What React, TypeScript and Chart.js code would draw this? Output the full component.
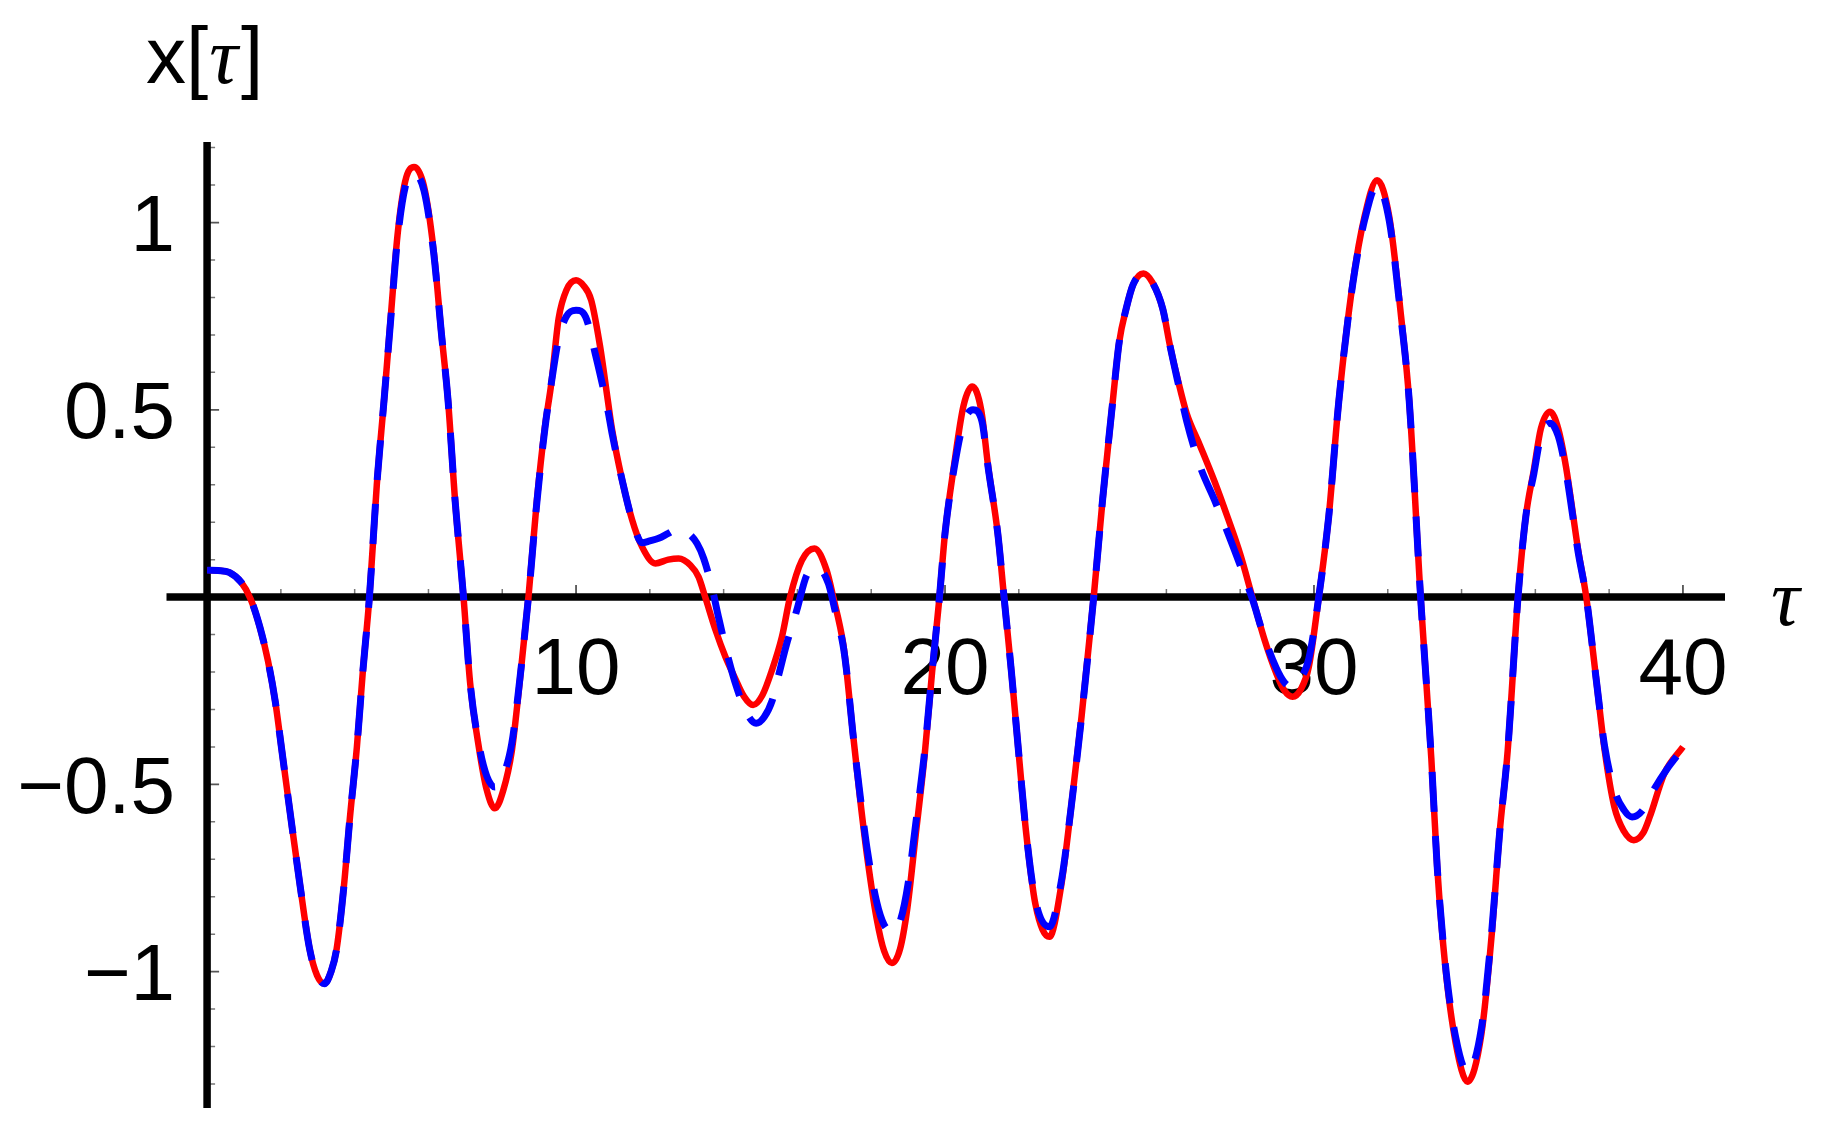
import React, { useEffect, useRef } from "react";
import { Chart, registerables } from "chart.js";

Chart.register(...registerables);

// ---- data ----
const tauRed = [
  0.0, 0.3, 0.6, 0.92, 1.18, 1.43, 1.65, 1.85, 2.02, 2.27, 2.52, 2.78, 2.98, 3.18, 3.36, 3.51, 3.71, 3.87, 4.06, 4.22,
  4.4, 4.6, 4.8, 4.98, 5.16, 5.37, 5.61, 5.88, 6.14, 6.35, 6.53, 6.72, 6.95, 7.13, 7.38, 7.58, 7.8, 8.03, 8.26, 8.47,
  8.71, 8.94, 9.15, 9.33, 9.53, 9.74, 10.0, 10.2, 10.41, 10.65, 10.86, 10.98, 11.25, 11.52, 11.79, 12.15, 12.5, 12.78, 13.1, 13.32,
  13.5, 13.78, 14.05, 14.28, 14.55, 14.8, 15.05, 15.31, 15.58, 15.8, 16.12, 16.46, 16.79, 16.97, 17.24, 17.33, 17.5, 17.7, 17.9, 18.15,
  18.35, 18.56, 18.78, 18.98, 19.2, 19.45, 19.65, 19.85, 20.0, 20.24, 20.5, 20.74, 20.98, 21.17, 21.43, 21.6, 21.8, 22.0, 22.2, 22.45,
  22.83, 23.15, 23.42, 23.7, 24.03, 24.27, 24.55, 24.72, 24.91, 25.1, 25.38, 25.62, 25.9, 26.1, 26.31, 26.55, 26.91, 27.3, 27.67, 28.0,
  28.33, 28.66, 28.98, 29.2, 29.42, 29.65, 29.86, 30.13, 30.4, 30.67, 31.05, 31.38, 31.71, 32.04, 32.36, 32.58, 32.89, 33.18, 33.34, 33.56,
  33.84, 34.16, 34.54, 34.82, 35.03, 35.25, 35.53, 35.74, 35.96, 36.15, 36.4, 36.62, 36.83, 37.16, 37.38, 37.65, 37.88, 38.14, 38.4, 38.67,
  38.92, 39.1, 39.5, 40.0,
];
const xRed = [
  0.072, 0.071, 0.066, 0.04, -0.005, -0.08, -0.17, -0.28, -0.405, -0.59, -0.77, -0.94, -1.01, -1.032, -1.0, -0.94, -0.77, -0.59, -0.4, -0.2,
  0.0, 0.3, 0.53, 0.75, 0.965, 1.11, 1.148, 1.096, 0.926, 0.705, 0.526, 0.26, 0.0, -0.23, -0.41, -0.515, -0.564, -0.515, -0.41, -0.23,
  0.0, 0.26, 0.45, 0.571, 0.745, 0.82, 0.846, 0.832, 0.793, 0.67, 0.526, 0.445, 0.312, 0.206, 0.134, 0.09, 0.1, 0.103, 0.085, 0.054,
  0.0, -0.088, -0.16, -0.21, -0.265, -0.288, -0.262, -0.195, -0.106, 0.0, 0.098, 0.13, 0.072, 0.0, -0.124, -0.195, -0.36, -0.54, -0.7, -0.86,
  -0.945, -0.977, -0.94, -0.83, -0.64, -0.42, -0.2, 0.0, 0.17, 0.348, 0.51, 0.562, 0.5, 0.348, 0.17, 0.0, -0.2, -0.42, -0.63, -0.82,
  -0.907, -0.77, -0.56, -0.32, 0.0, 0.259, 0.526, 0.68, 0.77, 0.835, 0.864, 0.84, 0.77, 0.67, 0.58, 0.49, 0.405, 0.31, 0.21, 0.115,
  0.0, -0.114, -0.204, -0.25, -0.266, -0.245, -0.186, 0.0, 0.215, 0.52, 0.838, 1.02, 1.113, 1.016, 0.75, 0.526, 0.0, -0.43, -0.72, -0.987,
  -1.19, -1.294, -1.165, -0.898, -0.631, -0.41, 0.0, 0.214, 0.34, 0.45, 0.495, 0.45, 0.348, 0.126, 0.0, -0.22, -0.41, -0.56, -0.625, -0.649,
  -0.63, -0.587, -0.47, -0.4,
];

const tauBlue = [
  0.0, 0.3, 0.6, 0.92, 1.18, 1.43, 1.65, 1.85, 2.02, 2.27, 2.52, 2.78, 2.98, 3.18, 3.36, 3.51, 3.71, 3.87, 4.06, 4.22,
  4.4, 4.6, 4.8, 4.98, 5.16, 5.37, 5.61, 5.88, 6.14, 6.35, 6.53, 6.72, 6.95, 7.13, 7.38, 7.58, 7.8, 8.03, 8.26, 8.47,
  8.71, 8.94, 9.15, 9.33, 9.53, 9.74, 10.0, 10.26, 10.52, 10.86, 10.98, 11.25, 11.52, 11.79, 12.0, 12.24, 12.5, 12.78, 13.0, 13.28,
  13.46, 13.68, 13.86, 14.14, 14.35, 14.6, 14.88, 15.1, 15.32, 15.5, 15.7, 15.98, 16.25, 16.52, 16.84, 17.02, 17.24, 17.33, 17.5, 17.7,
  17.9, 18.15, 18.35, 18.58, 18.8, 19.0, 19.2, 19.45, 19.65, 19.85, 20.0, 20.24, 20.5, 20.76, 21.0, 21.17, 21.43, 21.6, 21.8, 22.0,
  22.2, 22.45, 22.83, 23.15, 23.42, 23.7, 24.03, 24.27, 24.55, 24.72, 24.91, 25.1, 25.38, 25.62, 25.9, 26.1, 26.31, 26.55, 26.91, 27.3,
  27.67, 28.0, 28.33, 28.66, 28.98, 29.2, 29.4, 29.65, 29.86, 30.13, 30.4, 30.67, 31.05, 31.38, 31.71, 32.04, 32.36, 32.58, 32.89, 33.18,
  33.34, 33.56, 33.84, 34.16, 34.54, 34.82, 35.03, 35.25, 35.53, 35.74, 35.96, 36.15, 36.4, 36.62, 36.83, 37.16, 37.38, 37.65, 37.88, 38.14,
  38.4, 38.62, 38.9, 39.15, 39.56, 40.0,
];
const xBlue = [
  0.072, 0.071, 0.066, 0.04, -0.005, -0.08, -0.17, -0.28, -0.405, -0.59, -0.77, -0.94, -1.01, -1.032, -1.0, -0.94, -0.77, -0.59, -0.4, -0.2,
  0.0, 0.3, 0.53, 0.745, 0.955, 1.095, 1.13, 1.085, 0.92, 0.705, 0.526, 0.26, 0.0, -0.23, -0.4, -0.478, -0.507, -0.475, -0.39, -0.225,
  0.0, 0.255, 0.445, 0.571, 0.69, 0.75, 0.766, 0.748, 0.65, 0.5, 0.435, 0.312, 0.206, 0.145, 0.15, 0.157, 0.17, 0.183, 0.174, 0.143,
  0.103, 0.027, -0.053, -0.168, -0.24, -0.305, -0.337, -0.32, -0.275, -0.205, -0.128, -0.036, 0.058, 0.08, 0.036, -0.036, -0.13, -0.195, -0.36, -0.53,
  -0.68, -0.815, -0.875, -0.894, -0.86, -0.765, -0.61, -0.41, -0.2, 0.0, 0.17, 0.34, 0.465, 0.5, 0.47, 0.345, 0.17, 0.0, -0.2, -0.42,
  -0.63, -0.81, -0.88, -0.76, -0.56, -0.32, 0.0, 0.259, 0.526, 0.68, 0.77, 0.835, 0.864, 0.84, 0.77, 0.67, 0.575, 0.47, 0.35, 0.26,
  0.17, 0.085, -0.005, -0.11, -0.19, -0.228, -0.24, -0.215, -0.165, 0.0, 0.215, 0.52, 0.835, 1.01, 1.1, 1.005, 0.745, 0.526, 0.0, -0.43,
  -0.72, -0.98, -1.175, -1.268, -1.15, -0.89, -0.631, -0.41, 0.0, 0.214, 0.33, 0.43, 0.464, 0.43, 0.335, 0.12, 0.0, -0.22, -0.4, -0.515,
  -0.568, -0.587, -0.57, -0.524, -0.46, -0.404,
];

const xMajorTicks = [10, 20, 30, 40];
const xMajorLabels = ["10", "20", "30", "40"];
const xMinorTicks = [2, 4, 6, 8, 12, 14, 16, 18, 22, 24, 26, 28, 32, 34, 36, 38];
const yMajorTicks = [1, 0.5, -0.5, -1];
const yMajorLabels = ["1", "0.5", "\u22120.5", "\u22121"];
const yMinorTicks = [
  1.2, 1.1, 0.9, 0.8, 0.7, 0.6, 0.4, 0.3, 0.2, 0.1, -0.1, -0.2, -0.3, -0.4, -0.6, -0.7, -0.8, -0.9, -1.1, -1.2, -1.3,
];
const xRange = [-1.1, 41.14];
const yRange = [-1.364, 1.215];

const SANS = "'Liberation Sans', Arial, sans-serif";
const SERIF = "'Liberation Serif', 'Times New Roman', serif";

const axesPlugin = {
  id: "mathematicaAxes",
  beforeDatasetsDraw(chart: any) {
    const { ctx, chartArea, scales } = chart;
    const xs = scales.x;
    const ys = scales.y;
    const x0 = xs.getPixelForValue(0);
    const y0 = ys.getPixelForValue(0);
    ctx.save();

    // ticks
    ctx.strokeStyle = "#777";
    ctx.lineCap = "butt";
    ctx.lineWidth = 1.5;
    ctx.beginPath();
    xMinorTicks.forEach((v) => {
      const p = xs.getPixelForValue(v);
      ctx.moveTo(p, y0);
      ctx.lineTo(p, y0 - 8);
    });
    yMinorTicks.forEach((v) => {
      const p = ys.getPixelForValue(v);
      ctx.moveTo(x0, p);
      ctx.lineTo(x0 + 8, p);
    });
    ctx.stroke();
    ctx.strokeStyle = "#555";
    ctx.lineWidth = 1.8;
    ctx.beginPath();
    xMajorTicks.forEach((v) => {
      const p = xs.getPixelForValue(v);
      ctx.moveTo(p, y0);
      ctx.lineTo(p, y0 - 12);
    });
    yMajorTicks.forEach((v) => {
      const p = ys.getPixelForValue(v);
      ctx.moveTo(x0, p);
      ctx.lineTo(x0 + 12, p);
    });
    ctx.stroke();

    // axis lines
    ctx.strokeStyle = "#000";
    ctx.lineWidth = 7.5;
    ctx.beginPath();
    ctx.moveTo(chartArea.left, y0);
    ctx.lineTo(chartArea.right, y0);
    ctx.moveTo(x0, chartArea.top);
    ctx.lineTo(x0, chartArea.bottom);
    ctx.stroke();

    // tick labels
    ctx.fillStyle = "#000";
    ctx.font = `80px ${SANS}`;
    ctx.textBaseline = "alphabetic";
    ctx.textAlign = "right";
    yMajorTicks.forEach((v, i) => {
      ctx.fillText(yMajorLabels[i], x0 - 32, ys.getPixelForValue(v) + 28.6);
    });
    ctx.textAlign = "center";
    xMajorTicks.forEach((v, i) => {
      ctx.fillText(xMajorLabels[i], xs.getPixelForValue(v), y0 + 97);
    });

    // y-axis title x[τ]
    ctx.textAlign = "left";
    const tx = x0 - 61;
    const tb = chartArea.top - 59;
    ctx.font = `80px ${SANS}`;
    ctx.fillText("x[", tx, tb);
    const w1 = ctx.measureText("x[").width;
    ctx.font = `italic 80px ${SERIF}`;
    ctx.fillText("\u03c4", tx + w1 + 1, tb);
    const w2 = ctx.measureText("\u03c4").width;
    ctx.font = `80px ${SANS}`;
    ctx.fillText("]", tx + w1 + w2 + 4, tb);

    // x-axis title τ
    ctx.font = `italic 80px ${SERIF}`;
    ctx.fillText("\u03c4", chartArea.right + 46, y0 + 28);

    ctx.restore();
  },
};

export default function App() {
  const canvasRef = useRef<HTMLCanvasElement | null>(null);

  useEffect(() => {
    document.body.style.margin = "0";
    const canvas = canvasRef.current;
    if (!canvas) return;
    const chart = new Chart(canvas, {
      type: "line",
      data: {
        datasets: [
          {
            label: "approximation",
            data: tauBlue.map((t, i) => ({ x: t, y: xBlue[i] })),
            borderColor: "#0000ff",
            borderWidth: 7,
            borderDash: [40, 24],
            borderCapStyle: "butt",
            pointRadius: 0,
            fill: false,
            cubicInterpolationMode: "monotone",
            order: 0,
          },
          {
            label: "exact",
            data: tauRed.map((t, i) => ({ x: t, y: xRed[i] })),
            borderColor: "#ff0000",
            borderWidth: 6.5,
            pointRadius: 0,
            fill: false,
            cubicInterpolationMode: "monotone",
            order: 1,
          },
        ],
      },
      options: {
        animation: false,
        responsive: false,
        devicePixelRatio: 1,
        events: [],
        layout: { padding: { left: 166.5, right: 106, top: 142, bottom: 28 } },
        plugins: { legend: { display: false }, tooltip: { enabled: false } },
        scales: {
          x: { type: "linear", min: xRange[0], max: xRange[1], display: false },
          y: { type: "linear", min: yRange[0], max: yRange[1], display: false },
        },
      } as any,
      plugins: [axesPlugin],
    });
    return () => chart.destroy();
  }, []);

  return (
    <div style={{ position: "fixed", left: 0, top: 0, width: 1831, height: 1136, background: "#fff" }}>
      <canvas ref={canvasRef} width={1831} height={1136} style={{ width: 1831, height: 1136, display: "block" }} />
    </div>
  );
}
